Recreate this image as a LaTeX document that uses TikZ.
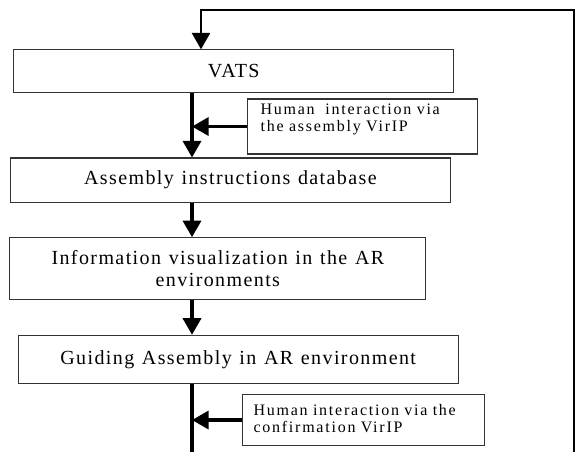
\documentclass[tikz,border=0pt]{standalone}
\usepackage{fontspec}
\setmainfont{Liberation Serif}
\newfontfamily\stagefont{Liberation Serif}[LetterSpace=7,WordSpace=1.2]
\newfontfamily\notefont{Liberation Serif}[LetterSpace=11,WordSpace=1.8]
\usetikzlibrary{arrows.meta,positioning}

\begin{document}
\begin{tikzpicture}[
        stage/.style={draw=black!80, line width=0.8pt, minimum width=330pt,
                      align=center, inner sep=4pt,
                      font=\stagefont\fontsize{15pt}{16.5pt}\selectfont},
        note/.style={draw=black!80, line width=0.8pt, align=left, inner ysep=3pt,
                     font=\notefont\fontsize{12pt}{12.5pt}\selectfont},
        flow/.style={-{Triangle[length=12.5pt,width=13.5pt]}, line width=2.7pt},
        loop/.style={line width=2.2pt}
    ]
    \useasboundingbox (0,0) rectangle (432.75pt,-339pt);
    \coordinate (spine) at (144pt,0);
    \coordinate (loop-corner) at (150.75pt,-7.5pt);
    \coordinate (loop-foot) at (430.5pt,-339pt);

    \node[stage, minimum height=32.25pt] (vats) at (175.35pt,-53.6pt) {VATS};
    \node[note, below right=3.75pt and 9.7pt of vats.south,
          text width=152.5pt, inner xsep=10pt,
          text height=8.5pt, text depth=26.75pt] (help1)
        {Human\ \ interaction via\\the assembly VirIP};
    \node[stage, minimum height=33pt, below=48pt of vats, xshift=-2.55pt] (db)
        {Assembly instructions database};
    \node[stage, minimum width=312pt, minimum height=46.2pt,
          below=26pt of db, xshift=-9.4pt] (vis)
        {Information visualization in the AR\\environments};
    \node[stage, minimum height=35.8pt, below=26.2pt of vis, xshift=15.25pt] (guide)
        {Guiding Assembly in AR environment};
    \node[note, below right=7.5pt and 2.7pt of guide.south,
          text width=164.8pt, inner xsep=8.4pt,
          text height=13.3pt, text depth=19.5pt] (help2)
        {Human interaction via the\\confirmation VirIP};

    \draw[flow] (vats.south -| spine) -- (db.north -| spine);
    \draw[flow] (db.south -| spine) -- (vis.north -| spine);
    \draw[flow] (vis.south -| spine) -- (guide.north -| spine);
    \draw[flow] (help1.west) -- (help1.west -| spine);
    \draw[flow] (help2.west) -- (help2.west -| spine);

    % feedback loop back to VATS
    \draw[flow, -] (guide.south -| spine) -- (spine |- loop-foot);
    \draw[flow, loop] (loop-foot) |- (loop-corner) -- (loop-corner |- vats.north);
\end{tikzpicture}
\end{document}
